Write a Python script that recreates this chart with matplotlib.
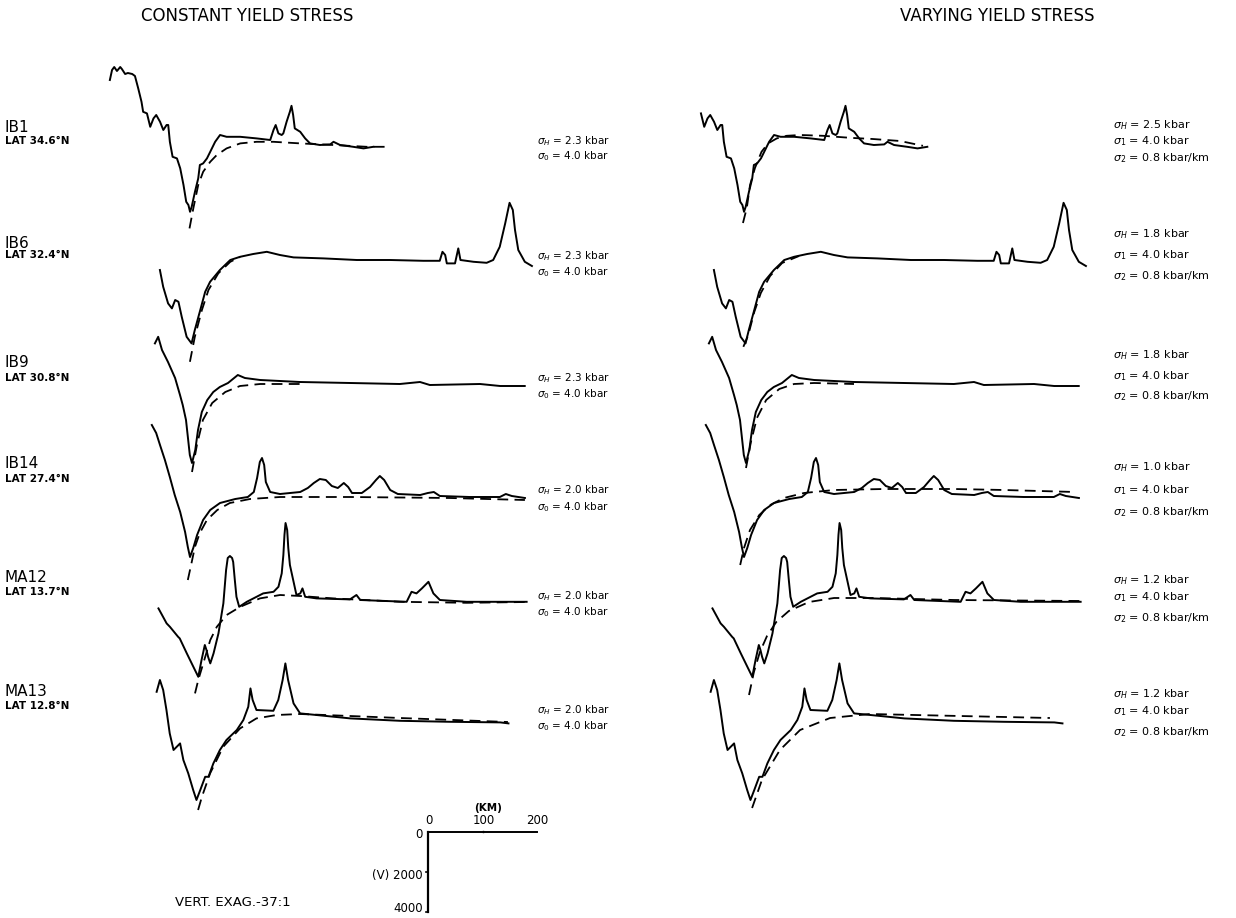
import numpy as np
import matplotlib.pyplot as plt

# trench profiles: distance from trench axis (km), depth (m)
# observed bathymetry (solid) is the same in both columns, model fits (dashed) differ
W, H = 1236, 918
KM_PX = 1.8333   # km per pixel  (200 km bar ~ 109 px)
M_PX = 50.0      # m per pixel   (4000 m bar ~ 80 px)
FLAT = 5500      # reference seafloor depth used for placing each profile

names = ["IB1", "IB6", "IB9", "IB14", "MA12", "MA13"]
lats = ["LAT 34.6°N", "LAT 32.4°N", "LAT 30.8°N", "LAT 27.4°N", "LAT 13.7°N", "LAT 12.8°N"]
sig_h_const = ["2.3", "2.3", "2.3", "2.0", "2.0", "2.0"]
sig_h_vary = ["2.5", "1.8", "1.8", "1.0", "1.2", "1.2"]

ib1_obs = np.array([(-146,2200),(-142,1700),(-138,1550),(-133,1750),(-127,1550),(-124,1650),(-118,1900),
    (-113,1850),(-105,1900),(-100,2000),(-94,2620),(-88,3290),(-85,3790),(-78,3870),(-72,4540),(-66,4120),
    (-61,3950),(-54,4290),(-48,4700),(-42,4450),(-39,4450),(-36,5290),(-31,6040),(-23,6120),(-17,6620),
    (-11,7450),(-6,8290),(-2,8450),(1,8790),(4,8540),(10,7790),(16,7120),(19,6450),(25,6370),(32,6120),
    (38,5790),(47,5290),(56,4950),(68,5040),(93,5040),(123,5120),(148,5200),(154,4700),(158,4450),(163,4870),
    (169,4950),(172,4870),(178,4290),(184,3790),(187,3490),(190,3950),(193,4620),(203,4790),(212,5120),
    (221,5370),(239,5450),(258,5420),(264,5290),(276,5450),(300,5540),(319,5620),(337,5540)])
ib6_obs = np.array([(-57,6100),(-51,6940),(-42,7770),(-35,8020),(-29,7600),(-23,7690),(-17,8440),(-8,9440),
    (1,9770),(7,9100),(17,8100),(26,7190),(35,6690),(53,6100),(72,5600),(90,5440),(114,5300),(139,5190),
    (163,5350),(188,5470),(243,5520),(304,5600),(365,5600),(426,5640),(456,5640),(461,5190),(466,5350),
    (469,5770),(484,5770),(490,5020),(494,5600),(518,5690),(542,5740),(554,5600),(566,4940),(576,3770),
    (584,2740),(590,3100),(594,4100),(600,5100),(612,5690),(625,5900)])
ib9_obs = np.array([(-68,3520),(-62,3190),(-55,3850),(-44,4450),(-31,5250),(-22,6100),(-17,6600),(-11,7350),
    (-7,8350),(-4,9100),(0,9500),(6,8850),(11,7850),(18,6950),(28,6350),(39,5950),(51,5700),(66,5500),
    (84,5100),(97,5250),(125,5350),(198,5450),(290,5500),(381,5550),(418,5450),(436,5600),(528,5550),
    (565,5650),(610,5650)])
ib14_obs = np.array([(-70,1900),(-62,2300),(-55,2900),(-46,3650),(-37,4500),(-28,5400),(-18,6250),(-9,7250),
    (-4,8000),(0,8500),(6,8050),(13,7400),(24,6650),(37,6150),(55,5800),(83,5600),(106,5500),(117,5250),
    (123,4550),(128,3750),(132,3550),(136,3900),(139,4750),(147,5250),(165,5350),(202,5250),(216,5050),
    (227,4800),(238,4600),(249,4650),(260,4950),(271,5050),(282,4800),(290,5000),(297,5300),(315,5300),
    (330,5000),(341,4650),(348,4450),(356,4650),(367,5150),(381,5350),(422,5400),(436,5300),(447,5250),
    (458,5450),(513,5500),(568,5500),(579,5350),(590,5450),(614,5550)])
ma12_obs = np.array([(-67,5820),(-52,6570),(-46,6740),(-31,7240),(-28,7320),(-15,8070),(-3,8740),(6,9240),
    (12,8400),(18,7650),(21,7900),(24,8240),(28,8570),(34,8070),(43,7070),(52,5570),(57,3900),(60,3300),
    (64,3200),(68,3300),(70,3500),(73,4400),(76,5240),(81,5740),(95,5490),(125,5070),(144,4990),(153,4740),
    (159,4070),(162,3150),(164,2150),(166,1550),(169,1900),(171,2800),(174,3650),(180,4400),(186,5150),
    (193,5070),(197,4820),(202,5240),(223,5320),(284,5370),(296,5150),(303,5400),(388,5490),(397,4990),
    (406,5070),(416,4820),(428,4490),(437,5070),(449,5400),(498,5490),(608,5490)])
ma13_obs = np.array([(-74,4340),(-68,3750),(-62,4250),(-56,5250),(-50,6420),(-43,7250),(-31,6920),(-25,7750),
    (-16,8420),(-7,9250),(-1,9750),(6,9250),(15,8590),(21,8590),(30,7920),(42,7250),(54,6750),(73,6250),
    (85,5750),(94,5090),(98,4170),(102,4750),(109,5250),(140,5290),(149,4750),(157,3750),(162,2920),
    (167,3750),(177,4920),(189,5420),(219,5500),(281,5670),(372,5790),(464,5840),(556,5870),(571,5920)])

# model profiles, constant yield stress
ib1_const = np.array([(0,9620),(7,8620),(16,7450),(25,6790),(38,6290),(50,5950),(68,5620),(93,5370),
    (123,5290),(154,5290),(203,5370),(264,5450),(325,5540),(358,5540)])
ib6_const = np.array([(-2,10690),(7,9440),(20,8100),(32,7100),(50,6270),(72,5690),(90,5450)])
ib9_const = np.array([(0,9950),(9,8600),(20,7350),(37,6500),(61,5950),(88,5650),(125,5550),(198,5550)])
ib14_const = np.array([(-4,9650),(2,8900),(9,8000),(18,7300),(31,6650),(50,6150),(73,5800),(110,5600),
    (165,5500),(293,5500),(477,5550),(614,5650)])
ma12_const = np.array([(0,10070),(6,9400),(17,8400),(28,7400),(40,6740),(58,6150),(83,5740),(119,5320),
    (156,5150),(193,5200),(253,5320),(376,5490),(498,5540),(608,5500)])
ma13_const = np.array([(2,10250),(9,9590),(24,8420),(48,7090),(79,6170),(109,5670),(146,5500),(189,5450),
    (372,5650),(570,5850)])

# model profiles, varying yield stress
ib1_vary = np.array([(-1,9350),(6,8600),(12,7450),(21,6600),(33,5790),(45,5370),(61,5120),(79,4990),
    (104,4950),(146,4990),(195,5090),(237,5150),(287,5250),(329,5490)])
ib6_vary = np.array([(-3,9940),(6,9350),(17,8200),(29,7250),(46,6400),(68,5750),(99,5400)])
ib9_vary = np.array([(0,9750),(9,8450),(20,7250),(37,6350),(61,5800),(88,5550),(125,5500),(198,5550)])
ib14_vary = np.array([(-7,8900),(0,8050),(11,7150),(28,6400),(48,5900),(73,5550),(110,5300),(165,5150),
    (257,5100),(385,5100),(477,5150),(607,5250)])
ma12_vary = np.array([(0,10150),(9,9000),(20,8000),(33,7200),(50,6500),(73,5950),(110,5500),(156,5300),
    (229,5300),(376,5400),(609,5450)])
ma13_vary = np.array([(2,10150),(20,8750),(53,7250),(90,6250),(145,5650),(218,5450),(548,5650)])

obs = [ib1_obs, ib6_obs, ib9_obs, ib14_obs, ma12_obs, ma13_obs]
fits = [[ib1_const, ib6_const, ib9_const, ib14_const, ma12_const, ma13_const],
        [ib1_vary, ib6_vary, ib9_vary, ib14_vary, ma12_vary, ma13_vary]]
right_start_km = [-80, None, None, None, None, None]  # IB1 is cut short on the right

# layout (pixel positions of trench axis / flat seafloor for the left column)
trench_px = [189.5, 191, 192, 190, 195, 197]
flat_px = [146, 258, 383, 497, 602, 715]
COL_SHIFT = 554
name_y = [127, 243, 363, 464, 578, 691]
lat_y = [141, 255, 378, 479, 592, 706]
ann_l_y = [(141, 156), (256, 272), (378, 394), (490, 507), (596, 612), (710, 726)]
ann_r_y = [(125, 141, 158), (234, 255, 276), (355, 376, 396), (467, 490, 512), (580, 597, 618), (694, 711, 732)]

fig = plt.figure(figsize=(W / 100, H / 100), dpi=100)
ax = fig.add_axes([0, 0, 1, 1])
ax.set_xlim(0, W * KM_PX)
ax.set_ylim(H * M_PX, 0)
ax.axis('off')

def ftxt(x, y, s, **kw):
    kw.setdefault('va', 'center')
    fig.text(x / W, 1 - y / H, s, **kw)

for i in range(6):
    for col in range(2):
        x0 = (trench_px[i] + col * COL_SHIFT) * KM_PX
        y0 = flat_px[i] * M_PX - FLAT
        d = obs[i]
        if col == 1 and right_start_km[i] is not None:
            d = d[d[:, 0] >= right_start_km[i]]
        ax.plot(x0 + d[:, 0], y0 + d[:, 1], color='k', lw=1.4, solid_joinstyle='round')
        f = fits[col][i]
        ax.plot(x0 + f[:, 0], y0 + f[:, 1], color='k', lw=1.3, ls=(0, (6, 3.5)))

    ftxt(5, name_y[i], names[i], fontsize=11)
    ftxt(5, lat_y[i], lats[i], fontsize=7.5, fontweight='bold')
    ftxt(537, ann_l_y[i][0], r"$\sigma_H$ = %s kbar" % sig_h_const[i], fontsize=7.5)
    ftxt(537, ann_l_y[i][1], r"$\sigma_0$ = 4.0 kbar", fontsize=7.5)
    ftxt(1113, ann_r_y[i][0], r"$\sigma_H$ = %s kbar" % sig_h_vary[i], fontsize=8)
    ftxt(1113, ann_r_y[i][1], r"$\sigma_1$ = 4.0 kbar", fontsize=8)
    ftxt(1113, ann_r_y[i][2], r"$\sigma_2$ = 0.8 kbar/km", fontsize=8)

ftxt(247, 16, "CONSTANT YIELD STRESS", fontsize=12, ha='center')
ftxt(997, 16, "VARYING YIELD STRESS", fontsize=12, ha='center')

# scale bar
sx, sy = 428 * KM_PX, 832 * M_PX
ax.plot([sx, sx + 200], [sy, sy], color='k', lw=1.4)
ax.plot([sx, sx], [sy, sy + 4000], color='k', lw=1.6)
ax.plot([sx + 100, sx + 100], [sy, sy - 40], color='k', lw=1)
for dm in (2000, 4000):
    ax.plot([sx - 3, sx], [sy + dm, sy + dm], color='k', lw=1.2)
ftxt(488, 808, "(KM)", fontsize=7.5, ha='center', fontweight='bold')
ftxt(429, 821, "0", fontsize=8.5, ha='center')
ftxt(484, 821, "100", fontsize=8.5, ha='center')
ftxt(537, 821, "200", fontsize=8.5, ha='center')
ftxt(423, 834, "0", fontsize=8.5, ha='right')
ftxt(423, 875, "(V) 2000", fontsize=8.5, ha='right')
ftxt(423, 909, "4000", fontsize=8.5, ha='right')
ftxt(175, 902, "VERT. EXAG.-37:1", fontsize=9.5)

plt.savefig("out.png", dpi=100)
